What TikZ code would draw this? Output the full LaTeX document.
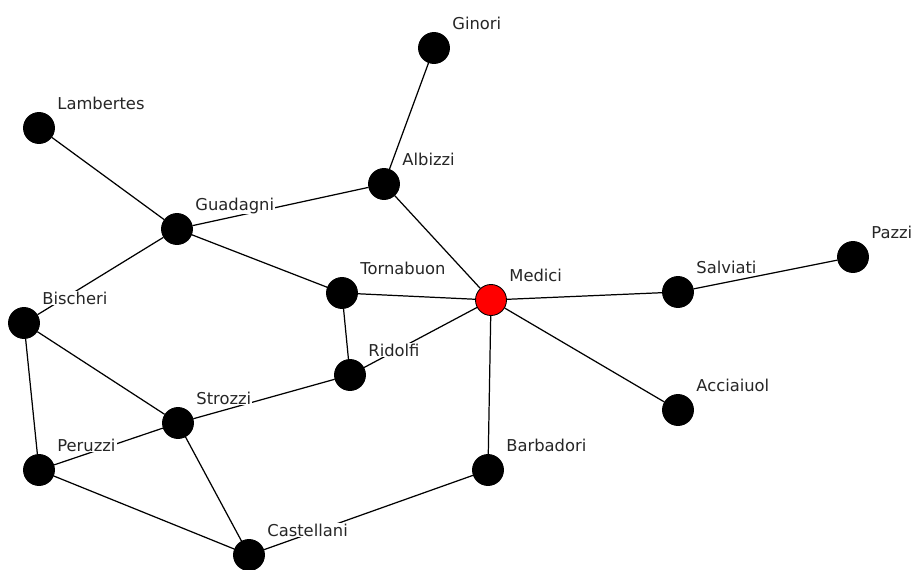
\documentclass[tikz,border=0pt]{standalone}
\usepackage{fontspec}
\setmainfont{DejaVu Sans}
\usepackage{tikz}
\usetikzlibrary{backgrounds}
\definecolor{ffqqqq}{rgb}{1.,0.,0.}
\definecolor{txtgray}{rgb}{0.15,0.15,0.15}
\tikzset{
  family/.style={circle,draw=black,fill=black,line width=0.5pt,minimum size=0.62cm,inner sep=0pt},
  famname/.style={anchor=base west,xshift=0.34cm,yshift=0.38cm,fill=white,inner sep=0.6pt,text=txtgray,font=\fontsize{9.3}{11}\selectfont},
  tie/.style={line width=0.7pt}
}

\begin{document}
\begin{tikzpicture}[line cap=round,line join=round,x=0.02cm,y=-0.02cm]
            \useasboundingbox (0,0) rectangle (913,569);
            % families
            \node [family] (ginori) at (434,48) {};
            \node [family] (lambertes) at (39,128) {};
            \node [family] (albizzi) at (384,184) {};
            \node [family] (guadagni) at (177,229) {};
            \node [family] (pazzi) at (853,257) {};
            \node [family] (tornabuon) at (342,293) {};
            \node [family,fill=ffqqqq] (medici) at (491,300) {};
            \node [family] (salviati) at (678,292) {};
            \node [family] (bischeri) at (24,323) {};
            \node [family] (ridolfi) at (350,375) {};
            \node [family] (strozzi) at (178,423) {};
            \node [family] (acciaiuol) at (678,410) {};
            \node [family] (peruzzi) at (39,470) {};
            \node [family] (barbadori) at (488,470) {};
            \node [family] (castellani) at (249,555) {};
            % names
            \node [famname] (ginoriT) at (ginori.center) {Ginori};
            \node [famname] (lambertesT) at (lambertes.center) {Lambertes};
            \node [famname] (albizziT) at (albizzi.center) {Albizzi};
            \node [famname] (guadagniT) at (guadagni.center) {Guadagni};
            \node [famname] (pazziT) at (pazzi.center) {Pazzi};
            \node [famname] (tornabuonT) at (tornabuon.center) {Tornabuon};
            \node [famname] (mediciT) at (medici.center) {Medici};
            \node [famname] (salviatiT) at (salviati.center) {Salviati};
            \node [famname] (bischeriT) at (bischeri.center) {Bischeri};
            \node [famname] (ridolfiT) at (ridolfi.center) {Ridolfi};
            \node [famname] (strozziT) at (strozzi.center) {Strozzi};
            \node [famname] (acciaiuolT) at (acciaiuol.center) {Acciaiuol};
            \node [famname] (peruzziT) at (peruzzi.center) {Peruzzi};
            \node [famname] (barbadoriT) at (barbadori.center) {Barbadori};
            \node [famname] (castellaniT) at (castellani.center) {Castellani};
            % marriage ties
            \begin{scope}[on background layer]
            \draw [tie] (ginori) -- (albizzi);
            \draw [tie] (albizzi) -- (guadagni);
            \draw [tie] (albizzi) -- (medici);
            \draw [tie] (lambertes) -- (guadagni);
            \draw [tie] (guadagni) -- (tornabuon);
            \draw [tie] (guadagni) -- (bischeri);
            \draw [tie] (tornabuon) -- (medici);
            \draw [tie] (tornabuon) -- (ridolfi);
            \draw [tie] (medici) -- (ridolfi);
            \draw [tie] (medici) -- (salviati);
            \draw [tie] (salviati) -- (pazzi);
            \draw [tie] (medici) -- (acciaiuol);
            \draw [tie] (medici) -- (barbadori);
            \draw [tie] (bischeri) -- (strozzi);
            \draw [tie] (bischeri) -- (peruzzi);
            \draw [tie] (ridolfi) -- (strozzi);
            \draw [tie] (strozzi) -- (peruzzi);
            \draw [tie] (strozzi) -- (castellani);
            \draw [tie] (peruzzi) -- (castellani);
            \draw [tie] (castellani) -- (barbadori);
            \end{scope}
\end{tikzpicture}
\end{document}
